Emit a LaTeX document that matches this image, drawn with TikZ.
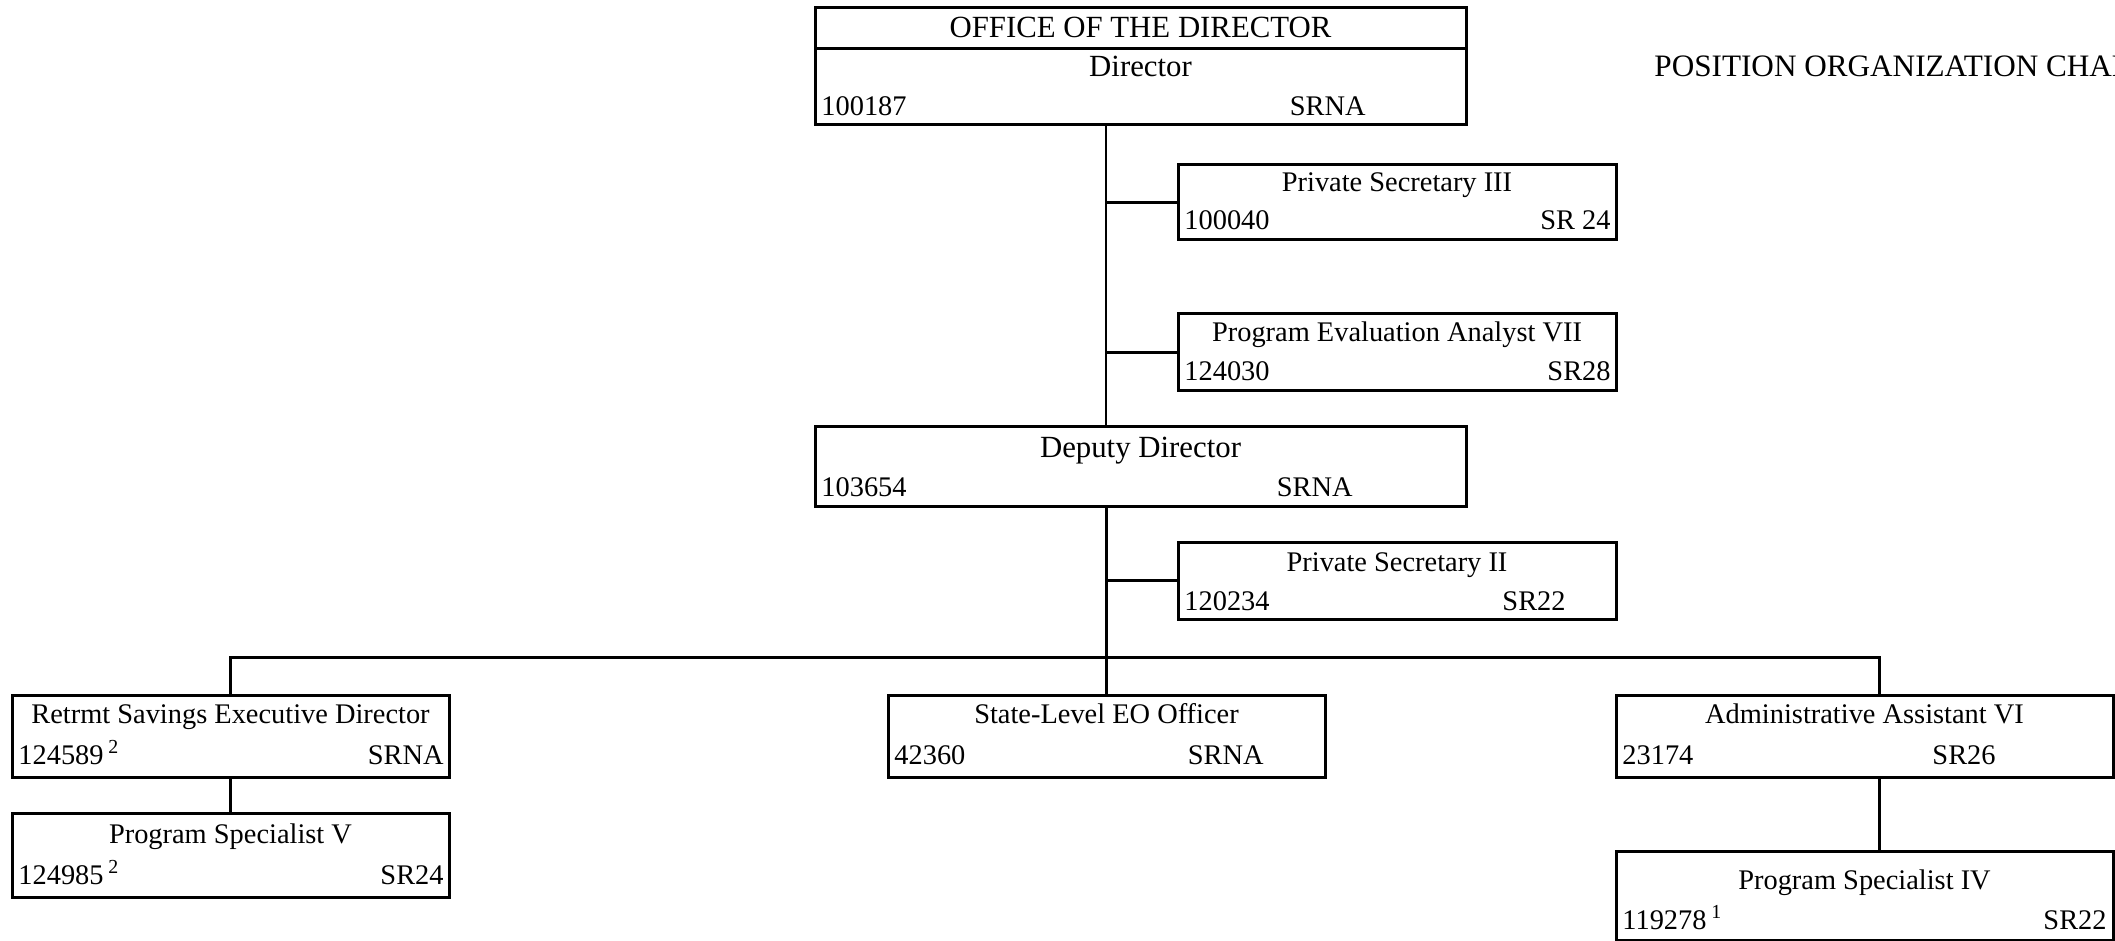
\documentclass[tikz,border=0pt]{standalone}
\usepackage{fontspec}
\setmainfont{Liberation Serif}
\begin{document}
\begin{tikzpicture}[x=0.5pt,y=-0.5pt,
  posbox/.style={draw, line width=1.5pt, inner sep=0pt, outer sep=0pt, anchor=north west},
  link/.style={line width=1.5pt},
  hairlink/.style={line width=0.7pt},
  headtxt/.style={font=\fontsize{15.4}{18}\selectfont, inner sep=0pt, anchor=base},
  bodytxt/.style={font=\fontsize{14.2}{17}\selectfont, inner sep=0pt},
  titletxt/.style={bodytxt, anchor=base},
]
\path[use as bounding box] (0,0) rectangle (2115,941);
\clip (0,0) rectangle (2115,941);
\fill[white] (0,0) rectangle (2115,941);

% box: name, left, top, right, bottom
\newcommand\orgbox[5]{%
  \node[posbox, minimum width={(#4-#2)*0.5pt}, minimum height={(#5-#3)*0.5pt}] (#1) at (#2,#3) {};}
% number / grade line: name, left, baseline, number, grade right end, grade
\newcommand\posline[6]{%
  \node[bodytxt, anchor=base west] (#1-no) at (#2+6,#3) {#4};
  \node[bodytxt, anchor=base east] (#1-gr) at (#5,#3) {#6};}

% chart heading
\node[font=\fontsize{15.6}{18}\selectfont, inner sep=0pt, anchor=base west] (heading) at (1654,77) {POSITION ORGANIZATION CHART};

% Office of the Director
\orgbox{dir}{815}{8}{1466}{125}
\draw[line width=1.5pt] (dir.north west |- 0,49) coordinate (dirsplitL) -- (dir.north east |- 0,49) coordinate (dirsplitR);
\node[headtxt] (dir-office) at (1140.5,38) {OFFICE OF THE DIRECTOR};
\node[headtxt] (dir-t) at (1140.5,77) {Director};
\posline{dir}{815}{116}{100187}{1366}{SRNA}

% staff to the Director
\orgbox{ps3}{1178}{165}{1616}{240}
\node[titletxt] (ps3-t) at (1397,192) {Private Secretary III};
\posline{ps3}{1178}{230}{100040}{1611}{SR 24}

\orgbox{pea}{1178}{314}{1616}{390}
\node[titletxt] (pea-t) at (1397,342) {Program Evaluation Analyst VII};
\posline{pea}{1178}{380}{124030}{1611}{SR28}

% Deputy Director
\orgbox{dep}{815}{426}{1466}{506}
\node[headtxt] (dep-t) at (1140.5,457) {Deputy Director};
\posline{dep}{815}{496}{103654}{1353}{SRNA}

\orgbox{ps2}{1178}{542}{1616}{619}
\node[titletxt] (ps2-t) at (1397,571) {Private Secretary II};
\posline{ps2}{1178}{610}{120234}{1566}{SR22}

% third level
\orgbox{rsed}{12}{695}{449}{777}
\node[titletxt] (rsed-t) at (230.5,723) {Retrmt Savings Executive Director};
\posline{rsed}{12}{764}{124589\,\textsuperscript{2}}{444}{SRNA}

\orgbox{eo}{888}{695}{1325}{777}
\node[titletxt] (eo-t) at (1106.5,723) {State-Level EO Officer};
\posline{eo}{888}{764}{42360}{1264}{SRNA}

\orgbox{aa6}{1616}{695}{2113}{777}
\node[titletxt] (aa6-t) at (1864.5,723) {Administrative Assistant VI};
\posline{aa6}{1616}{764}{23174}{1996}{SR26}

\orgbox{ps5}{12}{813}{449}{897}
\node[titletxt] (ps5-t) at (230.5,843) {Program Specialist V};
\posline{ps5}{12}{884}{124985\,\textsuperscript{2}}{444}{SR24}

\orgbox{ps4}{1616}{851}{2113}{940}
\node[titletxt] (ps4-t) at (1864.5,889) {Program Specialist IV};
\posline{ps4}{1616}{929}{119278\,\textsuperscript{1}}{2107}{SR22}

% connectors
\coordinate (trunk) at (1106,0);
\coordinate (barR) at (1879,657);

\draw[hairlink] (dir.south -| trunk) -- (dep.north -| trunk);
\draw[link] (ps3.west -| trunk) -- (ps3.west);
\draw[link] (pea.west -| trunk) -- (pea.west);

\draw[link] (dep.south -| trunk) -- (eo.north -| trunk);
\draw[link] (ps2.west -| trunk) -- (ps2.west);
\draw[link] (rsed.north) -- (rsed.north |- barR) -- (barR) -- (barR |- aa6.north);
\draw[link] (rsed.south) -- (ps5.north);
\draw[link] (aa6.south -| barR) -- (ps4.north -| barR);
\end{tikzpicture}
\end{document}
